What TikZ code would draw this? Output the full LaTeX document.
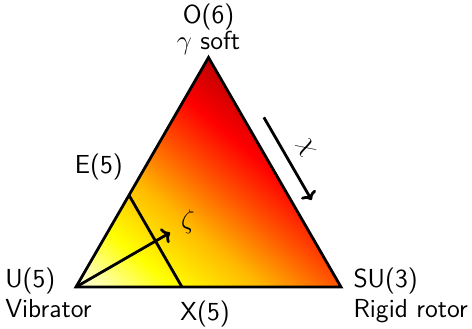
\documentclass[tikz,border=0pt]{standalone}
\usetikzlibrary{calc,arrows.meta}

\definecolor{heatA}{RGB}{255,255,225}
\definecolor{heatB}{RGB}{255,255,150}
\definecolor{heatC}{RGB}{255,255,0}
\definecolor{heatD}{RGB}{255,185,0}
\definecolor{heatE}{RGB}{255,85,0}
\definecolor{heatF}{RGB}{255,0,0}
\definecolor{heatG}{RGB}{185,0,0}
\pgfdeclarehorizontalshading{heat}{100bp}{color(0bp)=(heatA); color(50bp)=(heatA);
  color(52.4bp)=(heatB); color(56bp)=(heatC); color(61.3bp)=(heatD);
  color(66bp)=(heatE); color(70.3bp)=(heatF); color(75bp)=(heatG); color(100bp)=(heatG)}

\tikzset{
  lbl/.style={inner sep=0pt, font=\sffamily\fontsize{14}{16.1}\selectfont},
  edge/.style={line width=1.5pt},
  arr/.style={line width=1.5pt, -{To[length=4pt, width=9pt]}}
}

\begin{document}
\begin{tikzpicture}
    \useasboundingbox (-1.434,-0.792) rectangle (7.472,5.415);

    \coordinate (U) at (0,0);
    \coordinate (SU) at (5,0);
    \coordinate (O) at (60:5);
    \coordinate (E) at ($(U)!0.4!(O)$);
    \coordinate (X) at ($(U)!0.4!(SU)$);

    % coloured inside
    \begin{scope}
        \clip (U) -- (SU) -- (O) -- cycle;
        \shade[shading=heat, shading angle=50] (-5,-5) rectangle (5,5);
    \end{scope}
    \draw[edge] (U) -- (SU) -- (O) -- cycle;
    \draw[edge] (E) -- (X);

    \coordinate (zt) at (30:2.05);
    \draw[arr] (U) -- (zt);
    \node[lbl] (zeta) at (2.11,1.23) {$\zeta$};

    \coordinate (c1) at ($(O)!0.3!(SU) + (30:0.34)$);
    \coordinate (c2) at ($(O)!0.66!(SU) + (30:0.34)$);
    \draw[arr] (c1) -- (c2) node[lbl, midway, sloped, above=6pt] (chi) {$\chi$};

    \node[lbl, anchor=south, align=center, font=\sffamily\fontsize{14}{13.3}\selectfont] (olbl) at ($(O)+(0,0.04)$) {O(6)\\$\gamma$ soft};
    \node[lbl, anchor=north east] (elbl) at (0.89,2.52) {E(5)};
    \node[lbl, anchor=north west, align=left] (ulbl) at (-1.34,0.37) {U(5)\\Vibrator};
    \node[lbl, anchor=north west] (xlbl) at (1.96,-0.25) {X(5)};
    \node[lbl, anchor=north west, align=left] (sulbl) at (5.23,0.37) {SU(3)\\Rigid rotor};
\end{tikzpicture}
\end{document}
